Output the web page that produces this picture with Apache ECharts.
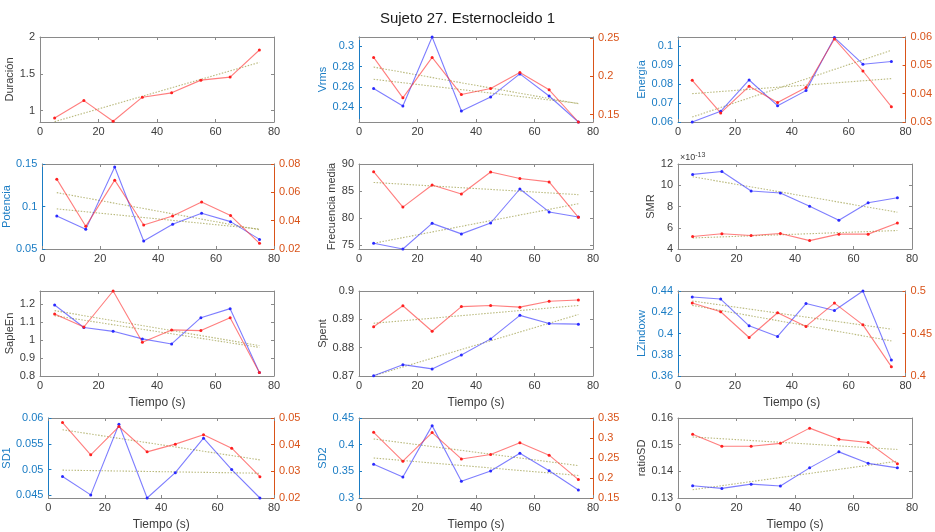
<!DOCTYPE html>
<html>
<head>
<meta charset="utf-8">
<script src="https://cdn.jsdelivr.net/npm/echarts@6/dist/echarts.min.js"></script>
<style>
  html, body { margin: 0; padding: 0; background: #ffffff; }
  #chart { width: 935px; height: 532px; }
</style>
</head>
<body>
<div id="chart"></div>
<script>
// Time stamps of each window (s)
const times = [5, 15, 25, 35, 45, 55, 65, 75];
const trendX = [5, 75];
const xTicks = [0, 20, 40, 60, 80];

// Duración
const durRed = [0.900, 1.136, 0.855, 1.182, 1.241, 1.414, 1.455, 1.823];
const durRedTrend = [0.850, 1.655];
const durTicks = [1, 1.5, 2];

// Vrms
const vrmsBlue = [0.2584, 0.2413, 0.3090, 0.2364, 0.2502, 0.2728, 0.2511, 0.2256];
const vrmsRed = [0.2245, 0.1719, 0.2245, 0.1762, 0.1840, 0.2048, 0.1823, 0.1405];
const vrmsBlueTrend = [0.2675, 0.2439];
const vrmsRedTrend = [0.2119, 0.1643];
const vrmsTicksL = [0.24, 0.26, 0.28, 0.3];
const vrmsTicksR = [0.15, 0.2, 0.25];

// Energía
const enBlue = [0.0600, 0.0656, 0.0821, 0.0686, 0.0765, 0.1044, 0.0904, 0.0918];
const enRed = [0.0447, 0.0332, 0.0426, 0.0369, 0.0422, 0.0593, 0.0480, 0.0354];
const enBlueTrend = [0.0626, 0.0977];
const enRedTrend = [0.0400, 0.0453];
const enTicksL = [0.06, 0.07, 0.08, 0.09, 0.1];
const enTicksR = [0.03, 0.04, 0.05, 0.06];

// Potencia
const potBlue = [0.0889, 0.0731, 0.1464, 0.0595, 0.0790, 0.0921, 0.0822, 0.0613];
const potRed = [0.0693, 0.0360, 0.0686, 0.0369, 0.0433, 0.0531, 0.0436, 0.0240];
const potBlueTrend = [0.0972, 0.0735];
const potRedTrend = [0.0598, 0.0336];
const potTicksL = [0.05, 0.1, 0.15];
const potTicksR = [0.02, 0.04, 0.06, 0.08];

// Frecuencia media
const fmBlue = [75.31, 74.25, 79.00, 77.05, 79.07, 85.37, 81.12, 80.19];
const fmRed = [88.57, 82.02, 86.12, 84.44, 88.51, 87.30, 86.68, 80.12];
const fmBlueTrend = [75.31, 82.64];
const fmRedTrend = [86.58, 84.32];
const fmTicks = [75, 80, 85, 90];

// SMR (in units of 1e-13)
const smrBlue = [11.02, 11.30, 9.46, 9.27, 8.03, 6.70, 8.35, 8.82];
const smrRed = [5.18, 5.43, 5.27, 5.46, 4.79, 5.40, 5.40, 6.44];
const smrBlueTrend = [10.80, 7.46];
const smrRedTrend = [5.04, 5.74];
const smrTicks = [4, 6, 8, 10, 12];

// SapleEn
const seBlue = [1.194, 1.069, 1.048, 1.006, 0.978, 1.124, 1.174, 0.819];
const seRed = [1.144, 1.072, 1.272, 0.987, 1.056, 1.052, 1.124, 0.819];
const seBlueTrend = [1.135, 0.959];
const seRedTrend = [1.163, 0.969];
const seTicks = [0.8, 0.9, 1, 1.1, 1.2];

// Spent
const spBlue = [0.8701, 0.8740, 0.8725, 0.8774, 0.8831, 0.8914, 0.8885, 0.8883];
const spRed = [0.8874, 0.8948, 0.8858, 0.8945, 0.8949, 0.8943, 0.8964, 0.8968];
const spBlueTrend = [0.8701, 0.8917];
const spRedTrend = [0.8886, 0.8949];
const spTicks = [0.87, 0.88, 0.89, 0.9];

// LZindoxw
const lzBlue = [0.4343, 0.4324, 0.4072, 0.3972, 0.4282, 0.4216, 0.4400, 0.3750];
const lzRed = [0.4858, 0.4756, 0.4453, 0.4744, 0.4583, 0.4858, 0.4602, 0.4110];
const lzBlueTrend = [0.4306, 0.4041];
const lzRedTrend = [0.4831, 0.4413];
const lzTicksL = [0.36, 0.38, 0.4, 0.42, 0.44];
const lzTicksR = [0.4, 0.45, 0.5];

// SD1
const sd1Blue = [0.04865, 0.0451, 0.0588, 0.0445, 0.0494, 0.0561, 0.0500, 0.0445];
const sd1Red = [0.0483, 0.0362, 0.0468, 0.0373, 0.0402, 0.0437, 0.0387, 0.0280];
const sd1BlueTrend = [0.0499, 0.0493];
const sd1RedTrend = [0.0456, 0.0343];
const sd1TicksL = [0.045, 0.05, 0.055, 0.06];
const sd1TicksR = [0.02, 0.03, 0.04, 0.05];

// SD2
const sd2Blue = [0.3631, 0.3393, 0.4357, 0.3315, 0.3506, 0.3839, 0.3512, 0.3149];
const sd2Red = [0.3143, 0.2421, 0.3135, 0.2476, 0.2587, 0.2881, 0.2571, 0.1960];
const sd2BlueTrend = [0.3750, 0.3423];
const sd2RedTrend = [0.2976, 0.2310];
const sd2TicksL = [0.3, 0.35, 0.4, 0.45];
const sd2TicksR = [0.15, 0.2, 0.25, 0.3, 0.35];

// ratioSD
const rsBlue = [0.1346, 0.1336, 0.1352, 0.1345, 0.1413, 0.1473, 0.1430, 0.1413];
const rsRed = [0.1539, 0.1494, 0.1494, 0.1505, 0.1562, 0.1520, 0.1508, 0.1428];
const rsBlueTrend = [0.1331, 0.1438];
const rsRedTrend = [0.1529, 0.1482];
const rsTicks = [0.13, 0.14, 0.15, 0.16];

// ---- styling ----
const FONT = "'Liberation Sans', Arial, Helvetica, sans-serif";
const FRAME = '#8a8a8a';
const TEXT = '#3c3c3c';
const LEFT_C = '#1a7cc4';
const RIGHT_C = '#D95319';
const BLUE_LINE = 'rgba(40,40,255,0.6)';
const BLUE_DOT = '#2a2aff';
const RED_LINE = 'rgba(255,40,40,0.6)';
const RED_DOT = '#ff2020';
const TREND = 'rgba(140,140,40,0.6)';

const colLeft = [40, 359, 678];
const rowTop = [37, 164, 291, 418];
const PW = 234, PH = 85;

// Panel definitions: each blue/red pair is drawn on left (and optionally right) axis
const panels = [
  { row: 0, col: 0, name: 'Duración', gap: 18, left: [0.845, 2], ticksL: durTicks,
    red: durRed, redTrend: durRedTrend },
  { row: 0, col: 1, name: 'Vrms', gap: 22, left: [0.2256, 0.309], ticksL: vrmsTicksL,
    right: [0.1405, 0.251], ticksR: vrmsTicksR,
    blue: vrmsBlue, blueTrend: vrmsBlueTrend, red: vrmsRed, redTrend: vrmsRedTrend },
  { row: 0, col: 2, name: 'Energía', gap: 23, left: [0.06, 0.1047], ticksL: enTicksL,
    right: [0.03, 0.06], ticksR: enTicksR,
    blue: enBlue, blueTrend: enBlueTrend, red: enRed, redTrend: enRedTrend },
  { row: 1, col: 0, name: 'Potencia', gap: 22, left: [0.05, 0.15], ticksL: potTicksL,
    right: [0.02, 0.08], ticksR: potTicksR,
    blue: potBlue, blueTrend: potBlueTrend, red: potRed, redTrend: potRedTrend },
  { row: 1, col: 1, name: 'Frecuencia media', gap: 15, left: [74.25, 90], ticksL: fmTicks,
    blue: fmBlue, blueTrend: fmBlueTrend, red: fmRed, redTrend: fmRedTrend },
  { row: 1, col: 2, name: 'SMR', gap: 14, left: [4, 12], ticksL: smrTicks, exponent: true,
    blue: smrBlue, blueTrend: smrBlueTrend, red: smrRed, redTrend: smrRedTrend },
  { row: 2, col: 0, name: 'SapleEn', gap: 19, left: [0.8, 1.272], ticksL: seTicks,
    blue: seBlue, blueTrend: seBlueTrend, red: seRed, redTrend: seRedTrend },
  { row: 2, col: 1, name: 'Spent', gap: 23, left: [0.87, 0.9], ticksL: spTicks,
    blue: spBlue, blueTrend: spBlueTrend, red: spRed, redTrend: spRedTrend },
  { row: 2, col: 2, name: 'LZindoxw', gap: 22, left: [0.36, 0.44], ticksL: lzTicksL,
    right: [0.4, 0.5], ticksR: lzTicksR,
    blue: lzBlue, blueTrend: lzBlueTrend, red: lzRed, redTrend: lzRedTrend },
  { row: 3, col: 0, name: 'SD1', gap: 27, left: [0.0445, 0.06], ticksL: sd1TicksL,
    right: [0.02, 0.05], ticksR: sd1TicksR,
    blue: sd1Blue, blueTrend: sd1BlueTrend, red: sd1Red, redTrend: sd1RedTrend },
  { row: 3, col: 1, name: 'SD2', gap: 23, left: [0.3, 0.45], ticksL: sd2TicksL,
    right: [0.15, 0.35], ticksR: sd2TicksR,
    blue: sd2Blue, blueTrend: sd2BlueTrend, red: sd2Red, redTrend: sd2RedTrend },
  { row: 3, col: 2, name: 'ratioSD', gap: 23, left: [0.13, 0.16], ticksL: rsTicks,
    blue: rsBlue, blueTrend: rsBlueTrend, red: rsRed, redTrend: rsRedTrend }
];

const grids = [], xAxes = [], yAxes = [], series = [], graphics = [];

function pairs(xs, ys) { return xs.map((x, i) => [x, ys[i]]); }

function xAxis(gi, pos, withName) {
  return {
    gridIndex: gi, type: 'value', position: pos, min: 0, max: 80, interval: 20,
    axisLine: { show: true, onZero: false, lineStyle: { color: FRAME, width: 1 } },
    axisTick: { show: true, inside: true, length: 3, customValues: xTicks, lineStyle: { color: FRAME } },
    axisLabel: { show: pos === 'bottom', customValues: xTicks, margin: 4, color: TEXT, fontSize: 11, fontFamily: FONT },
    splitLine: { show: false },
    name: withName ? 'Tiempo (s)' : '',
    nameLocation: 'middle', nameGap: 21,
    nameTextStyle: { color: TEXT, fontSize: 12, fontFamily: FONT }
  };
}

function yAxis(gi, pos, range, ticks, color, labelColor, name, gap, showLabels) {
  return {
    gridIndex: gi, type: 'value', position: pos, min: range[0], max: range[1],
    axisLine: { show: true, onZero: false, lineStyle: { color: color, width: 1 } },
    axisTick: { show: true, inside: true, length: 3, customValues: ticks, lineStyle: { color: color } },
    axisLabel: { show: showLabels, customValues: ticks, margin: 5, color: labelColor, fontSize: 11, fontFamily: FONT },
    splitLine: { show: false },
    name: name || '', nameLocation: 'middle', nameGap: gap || 0, nameRotate: 90,
    nameTextStyle: { color: labelColor, fontSize: 11, fontFamily: FONT }
  };
}

function lineSeries(xi, yi, vals, lineColor, dotColor) {
  return {
    type: 'line', xAxisIndex: xi, yAxisIndex: yi, data: pairs(times, vals),
    symbol: 'circle', symbolSize: 3, showSymbol: true,
    lineStyle: { color: lineColor, width: 1.1 },
    itemStyle: { color: dotColor },
    z: 3, silent: true
  };
}

function trendSeries(xi, yi, vals) {
  return {
    type: 'line', xAxisIndex: xi, yAxisIndex: yi, data: pairs(trendX, vals),
    symbol: 'none', lineStyle: { color: TREND, width: 1.1, type: [1.5, 1.5] },
    z: 2, silent: true
  };
}

panels.forEach(p => {
  const gi = grids.length;
  grids.push({ left: colLeft[p.col], top: rowTop[p.row], width: PW, height: PH });
  const xi = xAxes.length;
  xAxes.push(xAxis(gi, 'bottom', p.row >= 2));
  xAxes.push(xAxis(gi, 'top', false));
  const dual = !!p.right;
  const yl = yAxes.length;
  yAxes.push(yAxis(gi, 'left', p.left, p.ticksL,
    dual ? LEFT_C : FRAME, dual ? LEFT_C : TEXT, p.name, p.gap, true));
  const yr = yAxes.length;
  if (dual) {
    yAxes.push(yAxis(gi, 'right', p.right, p.ticksR, RIGHT_C, RIGHT_C, '', 0, true));
  } else {
    yAxes.push(yAxis(gi, 'right', p.left, p.ticksL, FRAME, TEXT, '', 0, false));
  }
  const redAxis = dual ? yr : yl;
  if (p.blue) {
    series.push(trendSeries(xi, yl, p.blueTrend));
  }
  series.push(trendSeries(xi, redAxis, p.redTrend));
  if (p.blue) {
    series.push(lineSeries(xi, yl, p.blue, BLUE_LINE, BLUE_DOT));
  }
  series.push(lineSeries(xi, redAxis, p.red, RED_LINE, RED_DOT));
  if (p.exponent) {
    graphics.push({
      type: 'text', left: colLeft[p.col] + 2, top: rowTop[p.row] - 12,
      style: {
        text: '×10{sup|-13}', fill: TEXT, font: '9px ' + FONT,
        rich: { sup: { fontSize: 7, verticalAlign: 'top', padding: [0, 0, 5, 0], fill: TEXT, fontFamily: FONT } }
      }
    });
  }
});

const chart = echarts.init(document.getElementById('chart'), null, { renderer: 'canvas' });
chart.setOption({
  animation: false,
  backgroundColor: '#ffffff',
  title: {
    text: 'Sujeto 27. Esternocleido 1', left: 'center', top: 6,
    textStyle: { fontSize: 15, fontWeight: 'normal', color: '#1a1a1a', fontFamily: FONT }
  },
  grid: grids,
  xAxis: xAxes,
  yAxis: yAxes,
  series: series,
  graphic: graphics
});
</script>
</body>
</html>
